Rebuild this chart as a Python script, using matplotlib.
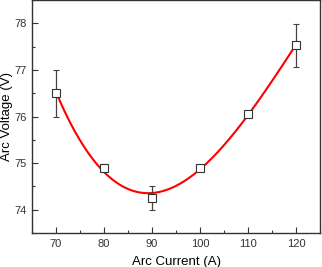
import numpy as np
import matplotlib
matplotlib.use("Agg")
import matplotlib.pyplot as plt
from matplotlib.ticker import MultipleLocator

current = [70, 80, 90, 100, 110, 120]
voltage = [76.5, 74.9, 74.25, 74.9, 76.05, 77.53]
err = [0.5, 0.07, 0.25, 0.06, 0.03, 0.46]

plt.rcParams['font.family'] = ['Liberation Sans', 'DejaVu Sans']

fig = plt.figure(figsize=(3.22, 2.67), dpi=100)
ax = fig.add_axes([32/322, 1-233/267, 288/322, 233/267])

coef = np.polyfit(current, voltage, 3)
xs = np.linspace(min(current), max(current), 200)
ax.plot(xs, np.polyval(coef, xs), color='#ff0000', lw=1.5, zorder=2)
ax.errorbar(current, voltage, yerr=err, fmt='s', ms=5.5, mfc='white', mec='#333333',
            mew=0.8, ecolor='#444444', elinewidth=0.9, capsize=2.5, capthick=0.9, zorder=3)

ax.set_xlim(65, 125)
ax.set_ylim(73.5, 78.5)
ax.xaxis.set_major_locator(MultipleLocator(10))
ax.xaxis.set_minor_locator(MultipleLocator(5))
ax.yaxis.set_major_locator(MultipleLocator(1))
ax.yaxis.set_minor_locator(MultipleLocator(0.5))
ax.tick_params(which='both', direction='in', labelsize=8, colors='#333333', width=0.8)
ax.tick_params(which='major', length=4, pad=4)
ax.tick_params(which='minor', length=2.5)
for s in ax.spines.values():
    s.set_linewidth(1.0)
    s.set_color('#333333')
ax.set_xlabel('Arc Current (A)', fontsize=9.5, labelpad=5)
ax.set_ylabel('Arc Voltage (V)', fontsize=9.5, labelpad=1)
fig.savefig('out.png', dpi=100)
